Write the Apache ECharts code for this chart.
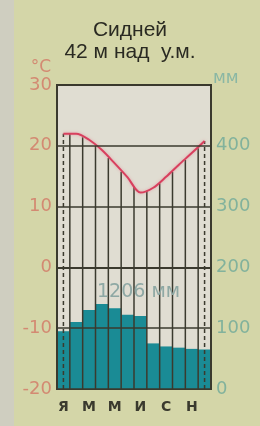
<!DOCTYPE html>
<html>
<head>
<meta charset="utf-8">
<script src="https://cdn.jsdelivr.net/npm/echarts@6/dist/echarts.min.js"></script>
<style>
  html, body { margin: 0; padding: 0; background: #d4d6a8; }
  #chart { width: 260px; height: 426px; }
</style>
</head>
<body>
<div id="chart"></div>
<script>
  // Months (Russian initials), Jan..Dec
  const months = ['Я', 'Ф', 'М', 'А', 'М', 'И', 'И', 'А', 'С', 'О', 'Н', 'Д'];
  // Mean monthly temperature, °C
  const temps = [22, 22, 21, 19.3, 17.1, 14.8, 12.3, 13.1, 14.9, 16.9, 18.8, 20.8];
  // Monthly precipitation, mm
  const precip = [95, 110, 130, 140, 133, 122, 120, 75, 70, 68, 66, 65];
  const totalText = '1206 мм';
  const tempMin = -20, tempMax = 30;
  const mmMin = 0, mmMax = 500;

  const gridColor = '#3b3a2e';
  const font = 'DejaVu Sans';

  // vertical lines: month boundaries (solid) and Jan/Dec centers (dashed), each up to the curve
  const verticals = [];
  verticals.push([0, temps[0], 1]);
  for (let i = 1; i < months.length; i++) {
    verticals.push([i - 0.5, Math.min(temps[i - 1], temps[i]) + Math.abs(temps[i] - temps[i - 1]) * 0.4, 0]);
  }
  verticals.push([months.length - 1, temps[months.length - 1], 1]);

  function renderVertical(params, api) {
    const pos = api.value(0);
    const top = api.value(1);
    const dashed = api.value(2) === 1;
    const c0 = api.coord([0, tempMin]);
    const c1 = api.coord([1, tempMin]);
    const x = c0[0] + pos * (c1[0] - c0[0]);
    const yTop = api.coord([0, top])[1];
    return {
      type: 'line',
      shape: { x1: x, y1: c0[1], x2: x, y2: yTop },
      style: {
        stroke: gridColor,
        lineWidth: 1.5,
        lineDash: dashed ? [4, 3] : null
      }
    };
  }

  const chart = echarts.init(document.getElementById('chart'));
  chart.setOption({
    backgroundColor: '#d4d6a8',
    animation: false,
    title: {
      text: 'Сидней\n42 м над  у.м.',
      left: 'center',
      top: 14,
      textStyle: {
        fontFamily: 'Liberation Sans',
        fontSize: 21,
        fontWeight: 'normal',
        lineHeight: 22,
        color: '#2a2a22'
      }
    },
    grid: {
      left: 57, right: 49, top: 85, bottom: 37,
      show: true,
      backgroundColor: '#e0ddd2',
      borderColor: gridColor,
      borderWidth: 2
    },
    xAxis: {
      type: 'category',
      data: months,
      boundaryGap: true,
      z: 10,
      axisLine: { show: true, lineStyle: { color: gridColor, width: 2 } },
      axisTick: { show: false },
      splitLine: { show: false },
      axisLabel: {
        interval: 1,
        margin: 11,
        fontFamily: font,
        fontSize: 14,
        fontWeight: 'bold',
        color: '#3a3a2e'
      }
    },
    yAxis: [
      {
        type: 'value',
        min: tempMin, max: tempMax, interval: 10,
        name: '°C',
        nameGap: 8,
        nameTextStyle: {
          fontFamily: font, fontSize: 17, color: '#d38a72',
          align: 'right', padding: [0, 6, 0, 0]
        },
        z: 10,
        axisLine: { show: true, lineStyle: { color: gridColor, width: 2 } },
        axisTick: { show: false },
        splitLine: { show: true, lineStyle: { color: gridColor, width: 1.5 } },
        axisLabel: {
          margin: 5,
          fontFamily: font,
          fontSize: 18,
          color: '#d38a72'
        }
      },
      {
        type: 'value',
        position: 'right',
        min: mmMin, max: mmMax, interval: 100,
        name: 'мм',
        nameGap: -2,
        nameTextStyle: {
          fontFamily: font, fontSize: 17, color: '#8ab7a4',
          align: 'left', padding: [0, 0, 0, 2]
        },
        z: 10,
        axisLine: { show: true, lineStyle: { color: gridColor, width: 2 } },
        axisTick: { show: false },
        splitLine: { show: false },
        axisLabel: {
          margin: 5,
          fontFamily: font,
          fontSize: 18,
          color: '#82b29c',
          formatter: function (v) { return v === mmMax ? '' : v; }
        }
      }
    ],
    graphic: [
      {
        type: 'rect',
        left: 0, top: 0, z: -1,
        shape: { width: 14, height: 426 },
        style: { fill: '#cfcec0' }
      },
      {
        type: 'text',
        left: 97,
        top: 283,
        z: 20,
        style: {
          text: totalText,
          fontFamily: font,
          fontSize: 19,
          fill: '#8ea8a4'
        }
      }
    ],
    series: [
      {
        type: 'bar',
        yAxisIndex: 1,
        data: precip,
        barWidth: '100%',
        barGap: '0%',
        barCategoryGap: '0%',
        itemStyle: { color: '#1a8b95' },
        z: 2
      },
      {
        type: 'custom',
        renderItem: renderVertical,
        data: verticals,
        yAxisIndex: 0,
        z: 3,
        silent: true
      },
      {
        type: 'line',
        yAxisIndex: 0,
        data: temps,
        smooth: 0.3,
        symbol: 'none',
        z: 5,
        lineStyle: {
          color: '#d8405e',
          width: 2,
          shadowColor: 'rgba(230,120,140,0.6)',
          shadowBlur: 3
        }
      }
    ]
  });
</script>
</body>
</html>
